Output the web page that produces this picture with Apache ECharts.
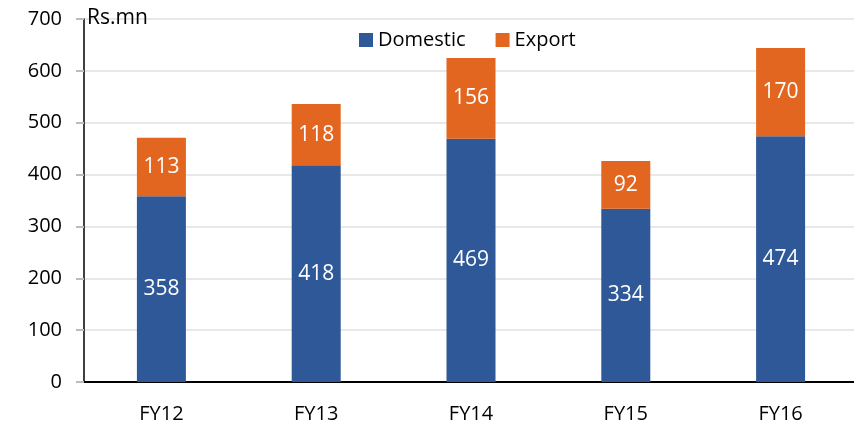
<!DOCTYPE html>
<html>
<head>
<meta charset="utf-8">
<script src="https://cdn.jsdelivr.net/npm/echarts@6/dist/echarts.min.js"></script>
<style>
  html, body { margin: 0; padding: 0; background: #fff; overflow: hidden; }
  #main { width: 858px; height: 424px; }
</style>
</head>
<body>
<div id="main"></div>
<script>
var years = ['FY12', 'FY13', 'FY14', 'FY15', 'FY16'];
var domestic = [358, 418, 469, 334, 474];
var exportSales = [113, 118, 156, 92, 170];

var font = 'Open Sans';
// plot runs past the right edge of the window, as in the original
var myChart = echarts.init(document.getElementById('main'));
var option = {
  animation: false,
  textStyle: { fontFamily: font },
  grid: { left: 84, right: 0, top: 19, bottom: 41 },
  legend: {
    top: 25,
    left: 354,
    itemWidth: 14,
    itemHeight: 14,
    itemGap: 30,
    icon: 'rect',
    textStyle: { fontSize: 20, color: '#000', fontFamily: font },
    data: ['Domestic', 'Export']
  },
  graphic: [{
    type: 'text',
    left: 87,
    top: 8,
    z: 100,
    style: { text: 'Rs.mn', fontSize: 21, fill: '#000', fontFamily: font }
  }],
  xAxis: {
    type: 'category',
    data: years,
    axisLine: { lineStyle: { color: '#000', width: 2 } },
    axisTick: { length: 8, lineStyle: { color: '#000', width: 2 } },
    axisLabel: { margin: 22, fontSize: 20, color: '#000' }
  },
  yAxis: {
    type: 'value',
    min: 0,
    max: 700,
    interval: 100,
    axisLine: { show: true, lineStyle: { color: '#000', width: 1.5 } },
    axisTick: { show: true, length: 8, lineStyle: { color: '#bbb', width: 2 } },
    axisLabel: { margin: 22, fontSize: 20, color: '#000' },
    splitLine: { lineStyle: { color: '#e8e8e8', width: 2 } }
  },
  series: [{
    name: 'Domestic',
    type: 'bar',
    stack: 'total',
    barWidth: 49,
    itemStyle: { color: '#2E5897' },
    label: { show: true, position: 'inside', color: '#fff', fontSize: 21, fontFamily: font },
    data: domestic
  }, {
    name: 'Export',
    type: 'bar',
    stack: 'total',
    barWidth: 49,
    itemStyle: { color: '#E2661F' },
    label: { show: true, position: 'inside', color: '#fff', fontSize: 21, fontFamily: font },
    data: exportSales
  }]
};
myChart.setOption(option);
</script>
</body>
</html>
